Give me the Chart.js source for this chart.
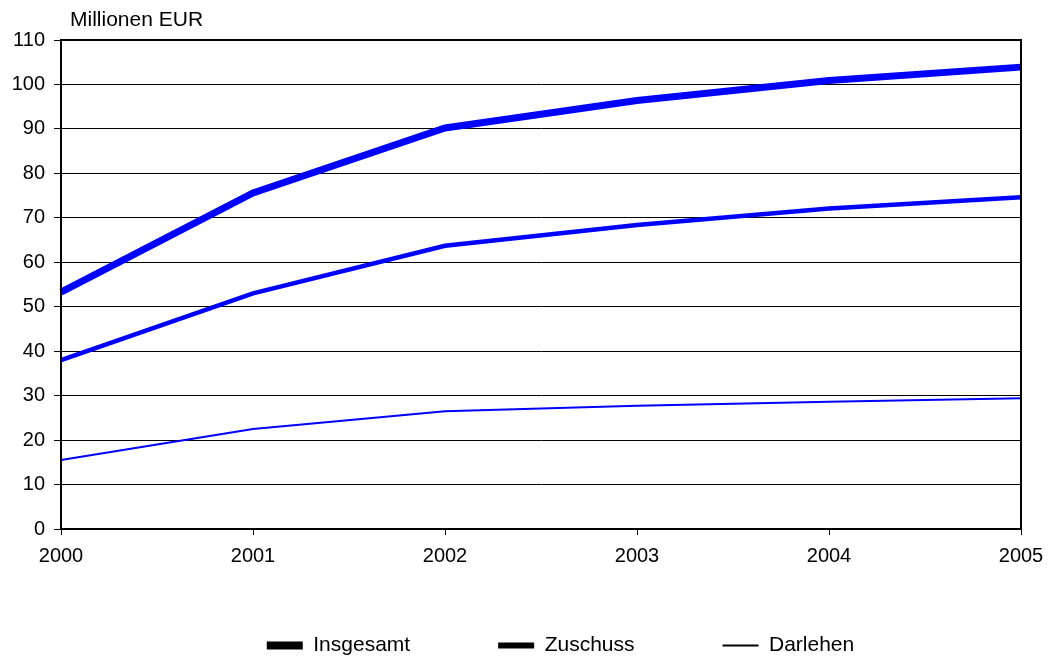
<!DOCTYPE html>
<html>
<head>
<meta charset="utf-8">
<script src="https://cdn.jsdelivr.net/npm/chart.js@4/dist/chart.umd.min.js"></script>
<style>
  body { margin: 0; background: #fff; }
  #wrap { width: 1053px; height: 657px; }
</style>
</head>
<body>
<div id="wrap"><canvas id="c" width="1053" height="657"></canvas></div>
<script>
const jahre = ['2000', '2001', '2002', '2003', '2004', '2005'];
const insgesamt = [53.3, 75.6, 90.2, 96.4, 100.9, 103.9];
const zuschuss = [38.0, 53.0, 63.7, 68.4, 72.1, 74.6];
const darlehen = [15.5, 22.5, 26.5, 27.7, 28.6, 29.4];
const einheit = 'Millionen EUR';

const FONT = 'Arial, "Liberation Sans", sans-serif';

// frame round the plot and the unit label above it
const rahmen = {
  id: 'rahmen',
  afterLayout(chart) {
    // move the legend to where the original has it
    const l = chart.legend;
    l.left += 50; l.right += 50;
    l.top -= 32; l.bottom = chart.height;
  },
  afterDatasetsDraw(chart) {
    const { ctx, chartArea: a } = chart;
    ctx.save();
    ctx.strokeStyle = '#000';
    ctx.lineWidth = 2;
    ctx.strokeRect(a.left, a.top, a.right - a.left, a.bottom - a.top);
    ctx.fillStyle = '#000';
    ctx.font = '21px ' + FONT;
    ctx.textBaseline = 'alphabetic';
    ctx.textAlign = 'left';
    ctx.fillText(einheit, a.left + 9, a.top - 14);
    ctx.restore();
  }
};

const breiten = [7, 4.5, 2];
const legendBreiten = [8, 6, 2];

new Chart(document.getElementById('c'), {
  type: 'line',
  data: {
    labels: jahre,
    datasets: [
      { label: 'Insgesamt', data: insgesamt, borderColor: '#0000ff', borderWidth: breiten[0] },
      { label: 'Zuschuss', data: zuschuss, borderColor: '#0000ff', borderWidth: breiten[1] },
      { label: 'Darlehen', data: darlehen, borderColor: '#0000ff', borderWidth: breiten[2] }
    ]
  },
  options: {
    responsive: false,
    animation: false,
    devicePixelRatio: 1,
    elements: { point: { radius: 0 }, line: { tension: 0 } },
    layout: { padding: { top: 40, right: 32, left: 0, bottom: 0 } },
    scales: {
      x: {
        offset: false,
        grid: { color: 'transparent', tickColor: '#000', tickLength: 6, drawOnChartArea: false },
        border: { color: '#000', width: 2 },
        ticks: { color: '#000', font: { family: FONT, size: 20 }, padding: 9, maxRotation: 0, autoSkip: false },
        afterFit(s) { s.height = 50; s.paddingLeft = 0; s.paddingRight = 0; }
      },
      y: {
        min: 0, max: 110,
        grid: { color: '#000', lineWidth: 1, tickColor: '#000', tickLength: 7 },
        border: { color: '#000', width: 2 },
        ticks: { stepSize: 10, color: '#000', font: { family: FONT, size: 20 }, padding: 9 },
        afterFit(s) { s.width = 61; }
      }
    },
    plugins: {
      tooltip: { enabled: false },
      legend: {
        position: 'bottom',
        maxHeight: 78,
        labels: {
          color: '#000',
          font: { family: FONT, size: 21 },
          usePointStyle: true,
          pointStyle: 'line',
          pointStyleWidth: 36,
          padding: 88,
          generateLabels(chart) {
            return chart.data.datasets.map((d, i) => ({
              text: d.label,
              fillStyle: '#000',
              strokeStyle: '#000',
              lineWidth: legendBreiten[i],
              pointStyle: 'line',
              datasetIndex: i,
              hidden: false,
              fontColor: '#000'
            }));
          }
        }
      }
    }
  },
  plugins: [rahmen]
});
</script>
</body>
</html>
